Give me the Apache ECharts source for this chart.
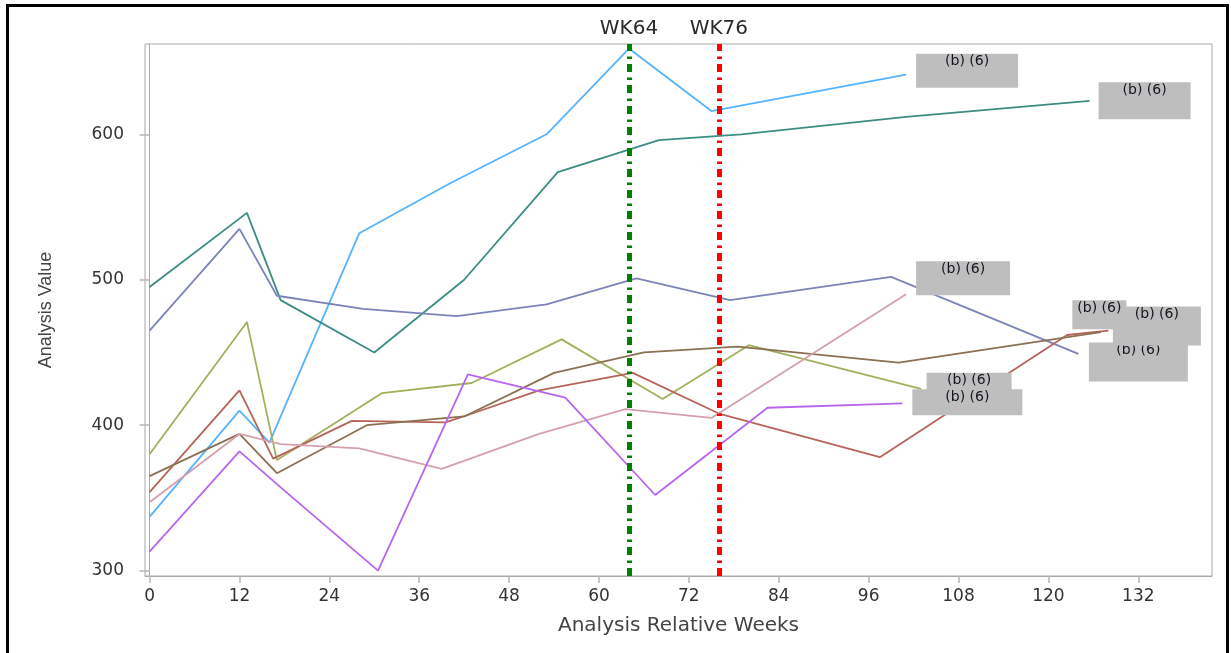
<!DOCTYPE html>
<html>
<head>
<meta charset="utf-8">
<script src="https://cdn.jsdelivr.net/npm/echarts@6/dist/echarts.min.js"></script>
<style>
  html, body { margin: 0; padding: 0; background: #fff; }
  #chart { width: 1231px; height: 653px; }
</style>
</head>
<body>
<div id="chart"></div>
<script>
// Axis ticks
const weekTicks = [0, 12, 24, 36, 48, 60, 72, 84, 96, 108, 120, 132];
const valueTicks = [300, 400, 500, 600];

// Reference visit lines
const refWeeks = [64, 76];
const refLabels = ['WK64', 'WK76'];

// Redacted subject label text
const subjectLabel = '(b) (6)';

// Analysis value by relative week, one array per subject: [week, value]
const subj01 = [[0, 337], [12, 410], [16, 388], [28, 532], [40, 566], [53, 600], [64, 659], [75, 616], [101, 641]];
const subj02 = [[0, 495], [13, 546], [17.5, 486], [30, 450], [42, 500], [54.5, 574], [68, 596], [79, 600], [101, 612], [125.5, 623]];
const subj03 = [[0, 465], [12, 535], [17, 489], [28.5, 480], [41, 475], [53, 483], [65, 501], [77.5, 486], [99, 502], [124, 449]];
const subj04 = [[0, 380], [13, 471], [17, 376], [31, 422], [43, 429], [55, 459], [68.5, 418], [80, 455], [103, 425]];
const subj05 = [[0, 354], [12, 424], [16.5, 377], [27, 403], [39.5, 402], [42.5, 407], [52, 424], [64.5, 436], [76, 408], [97.5, 378], [122.5, 462], [128, 465]];
const subj06 = [[0, 365], [12, 394], [17, 367], [29, 400], [42, 406], [54, 436], [66, 450], [78.5, 454], [100, 443], [127, 464]];
const subj07 = [[0, 347], [12, 394], [17.5, 387], [28, 384], [39, 370], [52, 394], [63.5, 411], [75, 405], [101, 490]];
const subj08 = [[0, 313], [12, 382], [18, 355], [30.5, 300], [42.5, 435], [55.5, 419], [67.5, 352], [82.5, 412], [100.5, 415]];

const subjects = [subj01, subj02, subj03, subj04, subj05, subj06, subj07, subj08];

// Line colours and the grey redaction box drawn at each line's end
const lineColors = ['#55B4FF', '#3D8C84', '#7B84B8', '#A2B05C', '#B6645A', '#8C7052', '#D4A0AE', '#B866F0'];
const boxStyle = [
  { size: [102, 34], offset: [61, -4], z: 5 },
  { size: [92, 37], offset: [55, 0], z: 5 },
  { size: [99, 39], offset: [60, 8], z: 5 },
  { size: [85, 28], offset: [48, -2], z: 5 },
  { size: [54, 29], offset: [-9, -16], z: 7 },
  { size: [88, 39], offset: [56, -6], z: 6 },
  { size: [94, 34], offset: [57, -16], z: 5 },
  { size: [110, 26], offset: [65, -1], z: 6 }
];

const axisFont = 'DejaVu Sans';
const refColors = ['#008000', '#FF0000'];

const series = subjects.map((pts, i) => {
  const last = pts[pts.length - 1];
  return {
    type: 'line',
    data: pts,
    showSymbol: false,
    symbol: 'none',
    lineStyle: { color: lineColors[i], width: 1.8 },
    itemStyle: { color: lineColors[i] },
    z: 2,
    animation: false,
    markPoint: {
      silent: true,
      animation: false,
      z: boxStyle[i].z,
      data: [{
        coord: last,
        symbol: 'rect',
        symbolSize: boxStyle[i].size,
        symbolOffset: boxStyle[i].offset,
        itemStyle: { color: '#BEBEBE' },
        label: {
          show: true,
          position: 'insideTop',
          distance: 1,
          formatter: subjectLabel,
          fontFamily: axisFont,
          fontSize: 14,
          color: '#15151f'
        }
      }]
    }
  };
});

// Reference visit lines, drawn through the x axis scale
series.push({
  type: 'line',
  data: [],
  z: 3,
  markLine: {
    silent: true,
    animation: false,
    symbol: ['none', 'none'],
    label: {
      show: true,
      position: 'end',
      distance: 5,
      fontFamily: axisFont,
      fontSize: 20,
      color: '#2a2a2a'
    },
    data: refWeeks.map((w, i) => ({
      xAxis: w,
      lineStyle: { color: refColors[i], width: 5, type: [8, 5, 2.5, 5.5], opacity: 1 },
      label: { formatter: refLabels[i] }
    }))
  }
});

const chart = echarts.init(document.getElementById('chart'));
chart.setOption({
  animation: false,
  backgroundColor: '#fff',
  grid: {
    left: 145, right: 19, top: 44, bottom: 77,
    show: true, borderColor: '#A9A9A9', borderWidth: 1, backgroundColor: '#fff'
  },
  xAxis: {
    type: 'value',
    min: -0.61,
    max: 141.84,
    name: 'Analysis Relative Weeks',
    nameLocation: 'middle',
    nameGap: 40,
    nameTextStyle: { fontFamily: axisFont, fontSize: 20, color: '#444' },
    axisLine: { show: true, lineStyle: { color: '#A9A9A9', width: 1 } },
    axisTick: { show: true, length: 7, customValues: weekTicks, lineStyle: { color: '#B5B5B5', width: 1.5 } },
    axisLabel: { customValues: weekTicks, margin: 12, fontFamily: axisFont, fontSize: 17, color: '#333' },
    splitLine: { show: false }
  },
  yAxis: {
    type: 'value',
    min: 296.3,
    max: 662.1,
    name: 'Analysis Value',
    nameLocation: 'middle',
    nameGap: 90,
    nameRotate: 90,
    nameTextStyle: { fontFamily: 'Liberation Sans', fontSize: 18, color: '#444' },
    axisLine: { show: true, lineStyle: { color: '#A9A9A9', width: 1 } },
    axisTick: { show: true, length: 10, customValues: valueTicks, lineStyle: { color: '#B5B5B5', width: 1.5 } },
    axisLabel: { customValues: valueTicks, margin: 21, fontFamily: axisFont, fontSize: 17, color: '#333' },
    splitLine: { show: false }
  },
  graphic: [{
    type: 'rect',
    silent: true,
    z: 100,
    shape: { x: 7.5, y: 5.5, width: 1220, height: 700 },
    style: { fill: 'transparent', stroke: '#000', lineWidth: 3 }
  }],
  series: series
});
</script>
</body>
</html>
